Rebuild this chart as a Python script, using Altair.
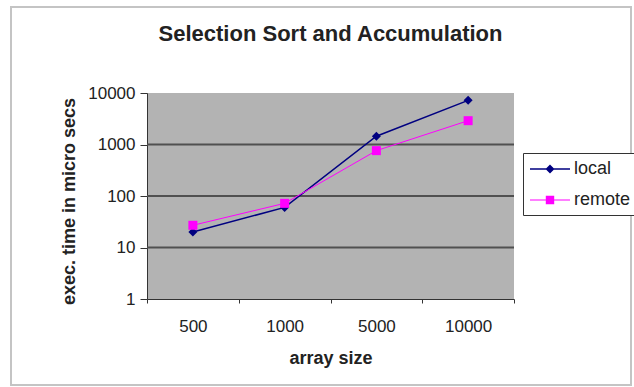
import altair as alt
import pandas as pd

# Execution time (micro seconds) per array size
sizes = ["500", "1000", "5000", "10000"]
local_us = [20, 60, 1450, 7200]
remote_us = [27, 72, 760, 2900]

series_names = ["local", "remote"]
series_colors = ["#000080", "#ff00ff"]

y_ticks = [1, 10, 100, 1000, 10000]
grid_values = [10, 100, 1000]

rows = []
for s, l, r in zip(sizes, local_us, remote_us):
    rows.append({"size": s, "series": "local", "time": l})
    rows.append({"size": s, "series": "remote", "time": r})
df = pd.DataFrame(rows)
grid_df = pd.DataFrame({"v": grid_values})

FONT = "Liberation Sans"
TEXT = "#222222"
W, H = 367, 206

# legend glyphs: a short line with the series marker on it
LOCAL_GLYPH = "M-2,-0.07H2V0.07H-2ZM0,-0.45L0.45,0L0,0.45L-0.45,0Z"
REMOTE_GLYPH = "M-2,-0.05H2V0.05H-2ZM-0.42,-0.42H0.42V0.42H-0.42Z"

x_scale = alt.Scale(type="band", domain=sizes, paddingInner=0, paddingOuter=0)
y_scale = alt.Scale(type="log", domain=[1, 10000], nice=False)
color_scale = alt.Scale(domain=series_names, range=series_colors)

x_axis = alt.Axis(
    title="array size", titleFont=FONT, titleFontSize=18, titleFontWeight="bold",
    titleColor=TEXT, titleY=64, titleBaseline="alphabetic",
    labelFont=FONT, labelFontSize=17, labelColor=TEXT, labelAngle=0,
    labelBaseline="alphabetic", labelPadding=28,
    tickBand="extent", tickSize=4, tickColor="#333333",
    domainColor="#333333", grid=False,
)
y_axis = alt.Axis(
    title="exec. time in micro secs", titleFont=FONT, titleFontSize=18,
    titleFontWeight="bold", titleColor=TEXT, titleX=-73, titleY=108,
    titleAngle=270, titleAlign="center", titleBaseline="alphabetic",
    values=y_ticks, format="d",
    labelFont=FONT, labelFontSize=17, labelColor=TEXT, labelPadding=5,
    tickSize=7, tickColor="#333333", domainColor="#333333", grid=False,
)

x_enc = alt.X("size:N", sort=sizes, bandPosition=0.5, scale=x_scale, axis=x_axis)
y_enc = alt.Y("time:Q", scale=y_scale, axis=y_axis)

legend_props = dict(
    title=None, orient="none", legendX=376, legendY=60,
    strokeColor="#333333", fillColor="#ffffff", padding=6,
    symbolSize=400, symbolOffset=11, symbolOpacity=1,
    symbolStrokeWidth=0, symbolStrokeColor="transparent",
    labelOffset=14, rowPadding=12,
    labelFont=FONT, labelFontSize=18, labelColor=TEXT,
)

base = alt.Chart(df)
local_df = base.transform_filter(alt.datum.series == "local")
remote_df = base.transform_filter(alt.datum.series == "remote")

# light frame around the whole figure
frame = alt.Chart(alt.Data(values=[{}])).mark_rect(
    fill="transparent", stroke="#c4c4c4", strokeWidth=2
).encode(
    x=alt.value(-136), x2=alt.value(484), y=alt.value(-86), y2=alt.value(292)
)

grid = alt.Chart(grid_df).mark_rule(color="#505050", strokeWidth=2).encode(
    y=alt.Y("v:Q", scale=y_scale, axis=y_axis)
)

local_line = local_df.mark_line(color=series_colors[0], strokeWidth=1.5).encode(x=x_enc, y=y_enc)
remote_line = remote_df.mark_line(color=series_colors[1], strokeWidth=1.0).encode(x=x_enc, y=y_enc)

local_pts = local_df.mark_point(
    shape="diamond", filled=True, size=81, opacity=1, color=series_colors[0]
).encode(x=x_enc, y=y_enc)
remote_pts = remote_df.mark_point(
    shape="square", filled=True, size=81, opacity=1, color=series_colors[1]
).encode(x=x_enc, y=y_enc)

# invisible layer that carries the legend (line + marker glyphs)
legend_layer = base.mark_point(filled=True, opacity=0).encode(
    x=x_enc, y=y_enc,
    color=alt.Color("series:N", scale=color_scale, legend=alt.Legend(**legend_props)),
    shape=alt.Shape(
        "series:N",
        scale=alt.Scale(domain=series_names, range=[LOCAL_GLYPH, REMOTE_GLYPH]),
        legend=alt.Legend(**legend_props),
    ),
)

chart = alt.layer(
    frame, grid, local_line, remote_line, local_pts, remote_pts, legend_layer
).properties(
    width=W,
    height=H,
    title=alt.Title(
        "Selection Sort and Accumulation", font=FONT, fontSize=22, fontWeight="bold",
        color=TEXT, anchor="middle", frame="group", baseline="alphabetic", offset=-57,
    ),
    padding={"left": 147, "top": 93, "right": 120, "bottom": 88},
    autosize="none",
).configure(background="#ffffff").configure_view(fill="#b3b3b3", strokeWidth=0)

chart.save("out.html", embed_options={"renderer": "svg", "actions": False})
